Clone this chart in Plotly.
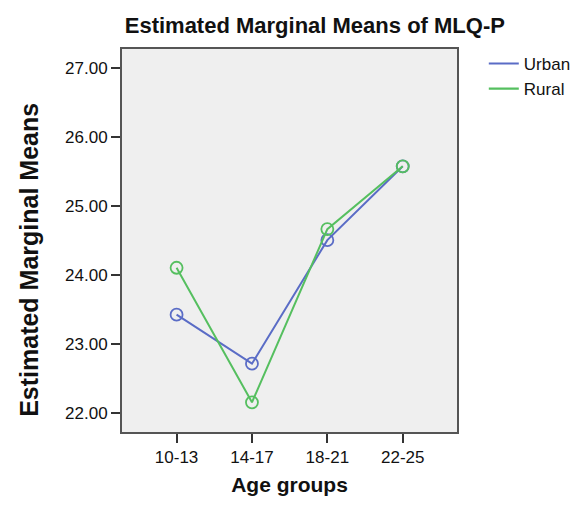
import plotly.graph_objects as go

age_groups = ["10-13", "14-17", "18-21", "22-25"]
urban = [23.43, 22.72, 24.51, 25.58]
rural = [24.11, 22.16, 24.67, 25.58]
y_ticks = [22.0, 23.0, 24.0, 25.0, 26.0, 27.0]
y_tick_labels = ["22.00", "23.00", "24.00", "25.00", "26.00", "27.00"]

blue = "#5a6cc6"
green = "#55bf5f"
font_family = "Liberation Sans, Arial, sans-serif"

fig = go.Figure()
for name, vals, col in [("Urban", urban, blue), ("Rural", rural, green)]:
    fig.add_trace(go.Scatter(
        x=age_groups, y=vals, mode="lines+markers", name=name,
        line=dict(color=col, width=2),
        marker=dict(symbol="circle-open", size=12, color=col, line=dict(width=1.8, color=col)),
        showlegend=False))
    fig.add_trace(go.Scatter(
        x=[None], y=[None], mode="lines", name=name,
        line=dict(color=col, width=2.2), showlegend=True))

fig.add_annotation(text="<b>Estimated Marginal Means</b>", xref="paper", yref="paper",
                   x=-0.28, y=0.45, xanchor="center", yanchor="middle",
                   textangle=-90, showarrow=False, font=dict(size=25, family=font_family))

fig.update_layout(
    width=580, height=497,
    margin=dict(l=114, r=116, t=41, b=62),
    paper_bgcolor="white", plot_bgcolor="#efefef",
    font=dict(family=font_family, color="#111111", size=17),
    title=dict(text="<b>Estimated Marginal Means of MLQ-P</b>", xref="container", x=0.529,
               xanchor="center", yref="container", y=0.966, yanchor="middle",
               font=dict(size=22, family=font_family)),
    legend=dict(x=1.08, y=1.008, xanchor="left", yanchor="top", bgcolor="rgba(0,0,0,0)",
                font=dict(size=17, family=font_family), tracegroupgap=0, itemwidth=30),
    xaxis=dict(type="category", categoryorder="array", categoryarray=age_groups,
               range=[-0.724, 3.72], showgrid=False, zeroline=False,
               showline=True, mirror=True, linecolor="#555555", linewidth=2,
               ticks="outside", ticklen=9, tickwidth=2, tickcolor="#333333",
               tickfont=dict(size=17),
               title=dict(text="<b>Age groups</b>", font=dict(size=21), standoff=11)),
    yaxis=dict(range=[21.73, 27.28], tickvals=y_ticks, ticktext=y_tick_labels,
               showgrid=False, zeroline=False,
               showline=True, mirror=True, linecolor="#555555", linewidth=2,
               ticks="outside", ticklen=9, tickwidth=2, tickcolor="#333333",
               tickfont=dict(size=17)),
)

fig.write_html("out.html")
